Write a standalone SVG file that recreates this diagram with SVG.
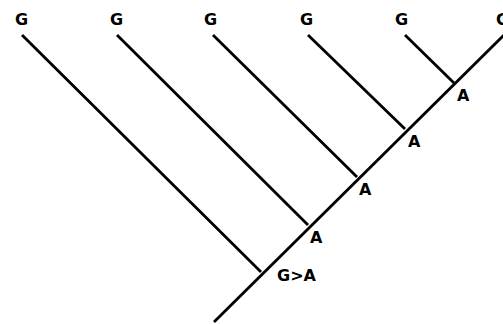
<svg xmlns="http://www.w3.org/2000/svg" width="503" height="324" viewBox="0 0 503 324">
<style>
.l{stroke:#000;stroke-width:2.8;fill:none}
.t{font-family:"DejaVu Sans",sans-serif;font-weight:bold;font-size:16px;fill:#000}
</style>
<rect width="503" height="324" fill="#fff"/>
<g id="connectors">
<line class="l" x1="214" y1="322" x2="505" y2="34"/>
<line class="l" x1="22" y1="35" x2="261" y2="272"/>
<line class="l" x1="117" y1="35" x2="308" y2="225"/>
<line class="l" x1="213" y1="35" x2="357" y2="177"/>
<line class="l" x1="308" y1="35" x2="405" y2="129"/>
<line class="l" x1="405" y1="35" x2="454" y2="83"/>
</g>
<g id="g1"><text class="t" x="15" y="25">G</text></g>
<g id="g2"><text class="t" x="110" y="25">G</text></g>
<g id="g3"><text class="t" x="204" y="25">G</text></g>
<g id="g4"><text class="t" x="300" y="25">G</text></g>
<g id="g5"><text class="t" x="395" y="25">G</text></g>
<g id="g6"><text class="t" x="496" y="25">G</text></g>
<g id="n1"><text class="t" x="277" y="281">G&gt;A</text></g>
<g id="n2"><text class="t" x="310" y="243">A</text></g>
<g id="n3"><text class="t" x="359" y="195">A</text></g>
<g id="n4"><text class="t" x="408" y="147">A</text></g>
<g id="n5"><text class="t" x="457" y="101">A</text></g>
</svg>
